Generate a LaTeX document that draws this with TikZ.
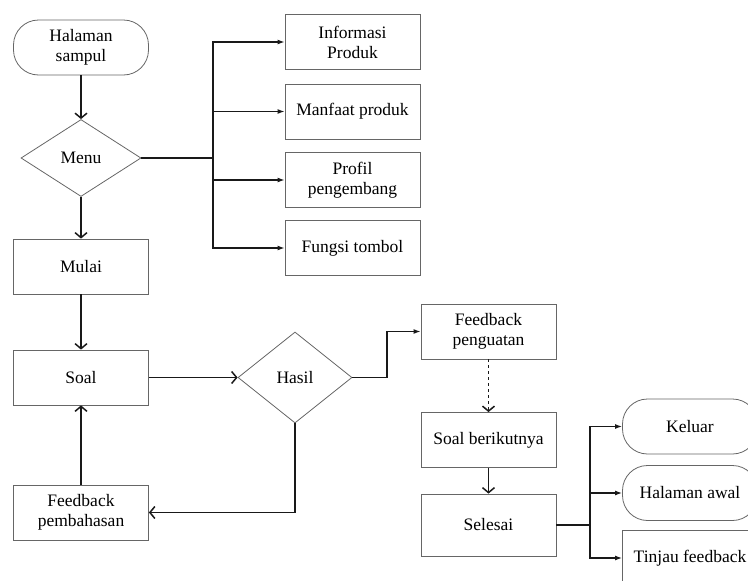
\documentclass[tikz,border=0pt]{standalone}
\usepackage{fontspec}
\setmainfont{Liberation Serif}
\usetikzlibrary{calc}
\usetikzlibrary{shapes.geometric}
\usetikzlibrary{arrows.meta}
\newcommand{\teks}{\fontsize{17.5}{20}\selectfont}
\tikzset{
	kotak/.style={draw=black!60, line width=0.8pt, minimum width=135pt, minimum height=55pt, inner sep=0pt, align=center, font=\teks},
	ujung/.style={kotak, rounded corners=25pt},
	pilih/.style={draw=black!60, line width=0.8pt, shape=diamond, inner sep=0pt, font=\teks},
	garis/.style={line width=1.5pt, black!90},
	alur/.style={garis, -{Straight Barb[length=5pt,width=12pt]}},
	cabang/.style={garis, -{Latex[length=7pt,width=5pt]}},
}

\begin{document}
\begin{tikzpicture}[x=1pt, y=-1pt]
	\useasboundingbox (0,0) rectangle (748,581);
	\clip (0,0) rectangle (748,581);

	\coordinate[](mj) at (213,158);
	\coordinate[](hj) at (387,377.5);
	\coordinate[](sj) at (590,525);

	% Alur utama
	\node[ujung] (hs) at (81,47.5) {Halaman\\sampul};
	\node[pilih, minimum width=120pt, minimum height=77pt] (menu) at (81,158) {Menu};
	\node[kotak] (mulai) at (81,266.5) {Mulai};
	\node[kotak] (soal) at (81,377.5) {Soal};
	\node[kotak] (fbb) at (81,512.5) {Feedback\\pembahasan};
	\node[pilih, minimum width=114pt, minimum height=91pt] (hasil) at (295,377.5) {Hasil};

	% Menu
	\node[kotak] (info) at (352.5,42) {Informasi\\Produk};
	\node[kotak] (manfaat) at (352.5,111.5) {Manfaat produk};
	\node[kotak] (profil) at (352.5,180) {Profil\\pengembang};
	\node[kotak] (fungsi) at (352.5,248) {Fungsi tombol};

	% Hasil benar
	\node[kotak] (fbk) at (488.5,331.5) {Feedback\\penguatan};
	\node[kotak] (sb) at (488.5,440) {Soal berikutnya};
	\node[kotak, minimum height=62pt] (sel) at (488.5,525) {Selesai};
	\node[ujung] (keluar) at (690,426.5) {Keluar};
	\node[ujung] (awal) at (690,493) {Halaman awal};
	\node[kotak] (tinjau) at (690,558) {Tinjau feedback};

	%% Panah
	\draw[alur] (hs) -- (menu);
	\draw[alur] (menu) -- (mulai);
	\draw[alur] (mulai) -- (soal);
	\draw[alur] (soal) -- (hasil);
	\draw[alur] (hasil.south) |- (fbb.east);
	\draw[alur] (fbb) -- (soal);
	\draw[alur, dashed] (fbk) -- (sb);
	\draw[alur] (sb) -- (sel);

	\draw[garis] (menu.east) -- (mj);
	\foreach \t in {info,manfaat,profil,fungsi}
		\draw[cabang] (mj) |- (\t.west);
	\draw[cabang] (hasil.east) -- (hj) |- (fbk.west);
	\draw[garis] (sel.east) -- (sj);
	\foreach \t in {keluar,awal,tinjau}
		\draw[cabang] (sj) |- (\t.west);
\end{tikzpicture}
\end{document}
